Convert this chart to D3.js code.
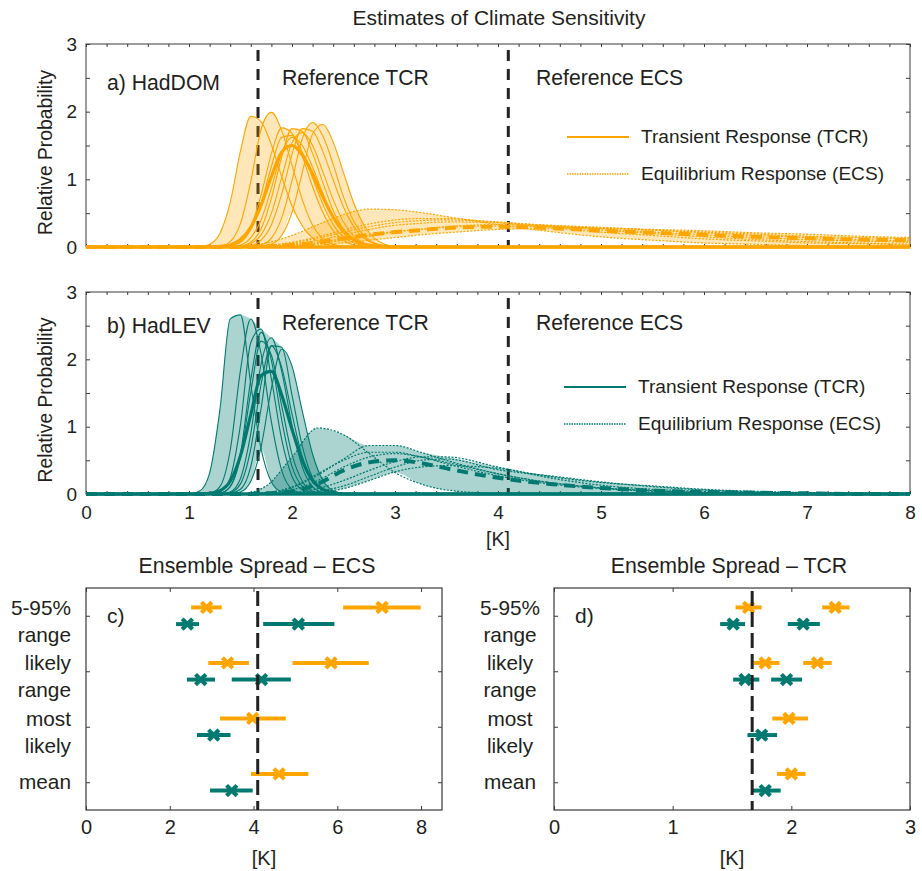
<!DOCTYPE html>
<html><head><meta charset="utf-8">
<script src="https://cdn.jsdelivr.net/npm/d3@7"></script>
<style>
body{margin:0;background:#fff}
text{font-family:"Liberation Sans",Arial,Helvetica,sans-serif;fill:#231f20}
</style>
</head><body>
<svg id="chart" width="922" height="871"></svg>
<script>
// ---------------- DATA ----------------
const refTCR = 1.67;
const refECS = 4.1;

// x grid (K) for transient-response densities
const tcrGrid = [0,1.0,1.1,1.2,1.3,1.4,1.5,1.6,1.7,1.8,1.9,2.0,2.1,2.2,2.3,2.4,2.5,2.6,2.7,2.8,2.9,3.0,8];
// x grid (K) for equilibrium-response densities
const ecsGrid = [0,1.0,1.25,1.5,1.75,2.0,2.25,2.5,2.75,3.0,3.25,3.5,4.0,4.5,5.0,5.5,6.0,6.5,7.0,7.5,8.0];

// a) HadDOM – TCR ensemble members
const tcrHadDOM = [
  [0,0,0,0.04,0.20,0.66,1.42,1.93,1.85,1.51,1.04,0.61,0.31,0.13,0.05,0.02,0,0,0,0,0,0,0],
  [0,0,0,0,0.01,0.08,0.35,0.97,1.74,1.99,1.72,1.21,0.70,0.32,0.12,0.04,0.01,0,0,0,0,0,0],
  [0,0,0,0,0,0.02,0.08,0.30,0.77,1.38,1.76,1.68,1.34,0.89,0.51,0.24,0.10,0.03,0.01,0,0,0,0],
  [0,0,0,0,0,0,0.01,0.07,0.27,0.72,1.33,1.75,1.71,1.38,0.95,0.54,0.26,0.11,0.04,0.01,0,0,0],
  [0,0,0,0,0,0,0,0.02,0.10,0.33,0.78,1.37,1.75,1.71,1.41,0.99,0.59,0.30,0.13,0.05,0.02,0,0],
  [0,0,0,0,0,0,0,0,0.03,0.13,0.43,0.98,1.60,1.84,1.64,1.22,0.74,0.38,0.16,0.06,0.02,0,0],
  [0,0,0,0,0,0,0,0,0.01,0.04,0.17,0.51,1.10,1.67,1.81,1.55,1.10,0.65,0.32,0.13,0.04,0.01,0],
  [0,0,0,0,0,0.01,0.03,0.14,0.40,0.87,1.39,1.62,1.50,1.18,0.79,0.45,0.22,0.09,0.03,0.01,0,0,0],
  [0,0,0,0,0,0,0.01,0.05,0.18,0.50,1.03,1.54,1.69,1.50,1.11,0.70,0.37,0.16,0.06,0.02,0,0,0],
  [0,0,0,0,0,0.02,0.07,0.26,0.64,1.19,1.62,1.65,1.40,1.02,0.63,0.33,0.15,0.06,0.02,0,0,0,0]
];
const tcrHadDOMMean = [0,0,0,0,0.01,0.03,0.11,0.29,0.62,1.04,1.40,1.50,1.36,1.08,0.74,0.44,0.23,0.11,0.04,0.02,0,0,0];

// a) HadDOM – ECS ensemble members
const ecsHadDOM = [
  [0,0,0,0.01,0.06,0.17,0.33,0.48,0.56,0.55,0.51,0.45,0.33,0.23,0.15,0.10,0.06,0.04,0.02,0.01,0.01],
  [0,0,0,0,0.01,0.03,0.07,0.12,0.18,0.23,0.26,0.29,0.31,0.30,0.28,0.25,0.22,0.19,0.16,0.14,0.12],
  [0,0,0,0,0.02,0.06,0.13,0.22,0.30,0.36,0.39,0.40,0.37,0.31,0.25,0.20,0.15,0.11,0.08,0.06,0.04],
  [0,0,0,0,0.01,0.02,0.05,0.10,0.16,0.22,0.26,0.30,0.33,0.32,0.29,0.25,0.21,0.17,0.14,0.11,0.09],
  [0,0,0,0,0.02,0.07,0.15,0.25,0.34,0.40,0.42,0.42,0.36,0.29,0.22,0.17,0.12,0.09,0.06,0.05,0.03],
  [0,0,0,0,0,0.01,0.03,0.06,0.10,0.14,0.18,0.21,0.26,0.28,0.28,0.26,0.24,0.21,0.19,0.16,0.14],
  [0,0,0,0,0.01,0.04,0.10,0.18,0.26,0.32,0.35,0.37,0.36,0.32,0.27,0.22,0.18,0.14,0.11,0.09,0.07]
];
const ecsHadDOMMean = [0,0,0,0,0.01,0.03,0.07,0.13,0.18,0.22,0.25,0.28,0.30,0.28,0.24,0.21,0.18,0.15,0.13,0.11,0.10];

// b) HadLEV – TCR ensemble members
const tcrHadLEV = [
  [0,0,0.04,0.31,1.25,2.60,2.66,1.63,0.67,0.18,0.03,0,0,0,0,0,0,0,0,0,0,0,0],
  [0,0,0,0.01,0.11,0.65,1.84,2.60,2.08,1.07,0.35,0.07,0.01,0,0,0,0,0,0,0,0,0,0],
  [0,0,0,0,0.03,0.24,1.03,2.25,2.45,1.71,0.81,0.26,0.06,0.01,0,0,0,0,0,0,0,0,0],
  [0,0,0,0,0.01,0.11,0.55,1.51,2.27,2.06,1.31,0.59,0.19,0.04,0.01,0,0,0,0,0,0,0,0],
  [0,0,0,0,0,0.03,0.23,0.90,1.93,2.32,1.82,1.02,0.40,0.11,0.02,0,0,0,0,0,0,0,0],
  [0,0,0,0,0,0.01,0.07,0.41,1.27,2.20,2.18,1.47,0.71,0.24,0.06,0.01,0,0,0,0,0,0,0],
  [0,0,0,0,0,0,0.03,0.19,0.70,1.57,2.15,1.90,1.23,0.59,0.20,0.05,0.01,0,0,0,0,0,0],
  [0,0,0,0,0.01,0.11,0.60,1.70,2.40,1.98,1.10,0.41,0.11,0.02,0,0,0,0,0,0,0,0,0],
  [0,0,0,0,0,0.02,0.15,0.67,1.63,2.20,1.88,1.19,0.55,0.19,0.05,0.01,0,0,0,0,0,0,0]
];
const tcrHadLEVMean = [0,0,0,0.01,0.05,0.19,0.57,1.18,1.76,1.82,1.47,0.96,0.50,0.20,0.07,0.02,0,0,0,0,0,0,0];

// b) HadLEV – ECS ensemble members
const ecsHadLEV = [
  [0,0,0,0,0.12,0.55,0.98,0.88,0.60,0.32,0.15,0.06,0.01,0,0,0,0,0,0,0,0],
  [0,0,0,0,0.02,0.10,0.28,0.52,0.72,0.72,0.62,0.50,0.30,0.17,0.09,0.05,0.02,0.01,0,0,0],
  [0,0,0,0,0,0.02,0.08,0.20,0.35,0.48,0.55,0.55,0.40,0.24,0.13,0.07,0.04,0.02,0.01,0,0],
  [0,0,0,0,0.01,0.06,0.20,0.40,0.55,0.60,0.55,0.47,0.30,0.17,0.09,0.05,0.02,0.01,0,0,0],
  [0,0,0,0,0,0.01,0.04,0.12,0.26,0.40,0.50,0.52,0.36,0.27,0.18,0.11,0.06,0.03,0.01,0,0],
  [0,0,0,0,0.02,0.10,0.30,0.50,0.62,0.62,0.55,0.45,0.27,0.15,0.08,0.04,0.02,0.01,0,0,0],
  [0,0,0,0,0,0,0.02,0.08,0.20,0.33,0.40,0.42,0.38,0.26,0.17,0.12,0.07,0.04,0.02,0.01,0]
];
const ecsHadLEVMean = [0,0,0,0,0.01,0.04,0.15,0.35,0.47,0.50,0.46,0.38,0.24,0.15,0.09,0.05,0.03,0.02,0.01,0,0];

// c/d) Ensemble spread: [group, low, estimate, high]
const groupLabels = [["5-95%","range"],["likely","range"],["most","likely"],["mean"]];
const ecsSpreadDOM = [[1,2.51,2.88,3.24],[1,6.14,7.07,7.99],[2,2.92,3.38,3.89],[2,4.93,5.85,6.75],[3,3.20,3.98,4.77],[4,3.94,4.61,5.31]];
const ecsSpreadLEV = [[1,2.15,2.42,2.70],[1,4.23,5.07,5.93],[2,2.41,2.74,3.08],[2,3.48,4.19,4.89],[3,2.65,3.05,3.45],[4,2.96,3.48,3.98]];
const tcrSpreadDOM = [[1,1.53,1.64,1.75],[1,2.26,2.37,2.49],[2,1.68,1.78,1.90],[2,2.10,2.22,2.34],[3,1.84,1.98,2.14],[4,1.88,2.00,2.12]];
const tcrSpreadLEV = [[1,1.40,1.51,1.61],[1,1.97,2.10,2.24],[2,1.51,1.61,1.73],[2,1.83,1.96,2.09],[3,1.63,1.75,1.88],[4,1.67,1.78,1.91]];

const topTicksY = [0,1,2,3];
const topTicksX = [0,1,2,3,4,5,6,7,8];
const ecsTicksX = [0,2,4,6,8];
const tcrTicksX = [0,1,2,3];

// ---------------- DRAWING ----------------
const orange = "#ffa500", teal = "#007a70", dark = "#231f20", frame = "#3a3a3a";
const svg = d3.select("#chart");

svg.append("text").attr("x", 499).attr("y", 25).attr("text-anchor","middle")
  .style("font-size","21px").text("Estimates of Climate Sensitivity");

const xTop = d3.scaleLinear().domain([0,8]).range([86,910]);

const panels = [
  {key:"a", top:44, bottom:247, color:orange, op:0.27, tcr:tcrHadDOM, tcrMean:tcrHadDOMMean, ecs:ecsHadDOM, ecsMean:ecsHadDOMMean,
   label:"a) HadDOM", labelY:90, refY:85, legY:[137,174], legX:[567,629,641], showX:false},
  {key:"b", top:292, bottom:494, color:teal, op:0.33, tcr:tcrHadLEV, tcrMean:tcrHadLEVMean, ecs:ecsHadLEV, ecsMean:ecsHadLEVMean,
   label:"b) HadLEV", labelY:333, refY:330, legY:[387,424], legX:[564,626,638], showX:true}
];

panels.forEach(p => {
  const y = d3.scaleLinear().domain([0,3]).range([p.bottom, p.top]);
  const g = svg.append("g");
  g.append("rect").attr("x",86).attr("y",p.top).attr("width",824).attr("height",p.bottom-p.top)
    .attr("fill","none").attr("stroke",frame).attr("stroke-width",1);
  const minorX = d3.range(0, 40.5, 1).map(i => i*0.2);
  const yT = d3.range(0, 6.5, 1).map(i => i*0.5);
  g.append("g").attr("transform",`translate(0,${p.bottom})`)
    .call(d3.axisBottom(xTop).tickValues(minorX).tickSize(-3).tickFormat(""))
    .call(a => a.select(".domain").remove()).selectAll("line").attr("stroke",frame);
  g.append("g").attr("transform",`translate(0,${p.top})`)
    .call(d3.axisTop(xTop).tickValues(minorX).tickSize(-3).tickFormat(""))
    .call(a => a.select(".domain").remove()).selectAll("line").attr("stroke",frame);
  g.append("g").attr("transform",`translate(86,0)`)
    .call(d3.axisLeft(y).tickValues(yT).tickSize(-4).tickPadding(9).tickFormat(d => topTicksY.includes(d) ? d3.format("d")(d) : ""))
    .call(a => a.select(".domain").remove())
    .call(a => a.selectAll("line").attr("stroke",frame))
    .call(a => a.selectAll("text").style("font-size","19px").attr("fill",dark).style("font-family",null));
  g.append("g").attr("transform",`translate(910,0)`)
    .call(d3.axisRight(y).tickValues(yT).tickSize(-4).tickFormat(""))
    .call(a => a.select(".domain").remove()).selectAll("line").attr("stroke",frame);
  if (p.showX) {
    g.append("g").attr("transform",`translate(0,${p.bottom})`)
      .call(d3.axisBottom(xTop).tickValues(topTicksX).tickSize(0).tickPadding(12))
      .call(a => a.select(".domain").remove())
      .call(a => a.selectAll("text").style("font-size","19px").attr("fill",dark).style("font-family",null));
    svg.append("text").attr("x",498).attr("y",546).attr("text-anchor","middle").style("font-size","19.5px").text("[K]");
  }
  svg.append("text").attr("transform",`translate(52,${(p.top+p.bottom)/2+7}) rotate(-90)`)
    .attr("text-anchor","middle").style("font-size","19.3px").text("Relative Probability");

  [refTCR, refECS].forEach(r => {
    g.append("line").attr("x1",xTop(r)).attr("x2",xTop(r)).attr("y1",p.top+6).attr("y2",p.bottom)
      .attr("stroke","#222").attr("stroke-width",3).attr("stroke-dasharray","11,8");
  });

  svg.append("clipPath").attr("id","clip"+p.key).append("rect")
    .attr("x",86).attr("y",p.top).attr("width",824).attr("height",p.bottom-p.top+4);
  const cg = g.append("g").attr("clip-path",`url(#clip${p.key})`);

  function drawSet(grid, curves, mean, dotted) {
    const all = curves.concat([mean]);
    const env = grid.map((xv,i) => ({x:xv, lo:d3.min(all, c => c[i]), hi:d3.max(all, c => c[i])}));
    cg.append("path").datum(env)
      .attr("d", d3.area().x(d => xTop(d.x)).y0(d => y(d.lo)).y1(d => y(d.hi)).curve(d3.curveMonotoneX))
      .attr("fill", p.color).attr("fill-opacity", p.op).attr("stroke","none");
    const line = d3.line().x((v,i) => xTop(grid[i])).y(v => y(v)).curve(d3.curveMonotoneX);
    curves.forEach(c => {
      cg.append("path").datum(c).attr("d", line).attr("fill","none").attr("stroke", p.color)
        .attr("stroke-width", dotted ? 1.2 : 1.1).attr("stroke-dasharray", dotted ? "2,1.5" : null);
    });
    cg.append("path").datum(mean).attr("d", line).attr("fill","none").attr("stroke", p.color)
      .attr("stroke-width", dotted ? 4 : 3.2).attr("stroke-dasharray", dotted ? "11,7" : null);
  }
  drawSet(ecsGrid, p.ecs, p.ecsMean, true);
  drawSet(tcrGrid, p.tcr, p.tcrMean, false);
  cg.append("line").attr("x1",xTop(0)).attr("x2",xTop(8)).attr("y1",y(0)).attr("y2",y(0))
    .attr("stroke",p.color).attr("stroke-width",3.5);

  svg.append("text").attr("x",107).attr("y",p.labelY).style("font-size","21.2px").text(p.label);
  svg.append("text").attr("x",282).attr("y",p.refY).style("font-size","21.2px").text("Reference TCR");
  svg.append("text").attr("x",536).attr("y",p.refY).style("font-size","21.2px").text("Reference ECS");
  svg.append("line").attr("x1",p.legX[0]).attr("x2",p.legX[1]).attr("y1",p.legY[0]).attr("y2",p.legY[0])
    .attr("stroke",p.color).attr("stroke-width",2);
  svg.append("line").attr("x1",p.legX[0]).attr("x2",p.legX[1]).attr("y1",p.legY[1]).attr("y2",p.legY[1])
    .attr("stroke",p.color).attr("stroke-width",1.6).attr("stroke-dasharray","1.5,1");
  svg.append("text").attr("x",p.legX[2]).attr("y",p.legY[0]+6).style("font-size","19.1px").text("Transient Response (TCR)");
  svg.append("text").attr("x",p.legX[2]).attr("y",p.legY[1]+6).style("font-size","19.1px").text("Equilibrium Response (ECS)");
});

// ---------- bottom panels ----------
const spreadPanels = [
  {left:86, right:442, domain:[0,8.5], ticks:ecsTicksX, ref:refECS, dom:ecsSpreadDOM, lev:ecsSpreadLEV,
   title:"Ensemble Spread \u2013 ECS", titleX:257, tag:"c)", labAnchor:"end", labX:71},
  {left:554, right:910, domain:[0,3], ticks:tcrTicksX, ref:refTCR, dom:tcrSpreadDOM, lev:tcrSpreadLEV,
   title:"Ensemble Spread \u2013 TCR", titleX:729, tag:"d)", labAnchor:"middle", labX:510}
];
const top2 = 588, bot2 = 810;
const yS = d3.scaleLinear().domain([0.5,4.5]).range([top2, bot2]);

spreadPanels.forEach(sp => {
  const x = d3.scaleLinear().domain(sp.domain).range([sp.left, sp.right]);
  const g = svg.append("g");
  g.append("rect").attr("x",sp.left).attr("y",top2).attr("width",sp.right-sp.left).attr("height",bot2-top2)
    .attr("fill","none").attr("stroke",frame).attr("stroke-width",1.2);
  g.append("g").attr("transform",`translate(0,${bot2})`)
    .call(d3.axisBottom(x).tickValues(sp.ticks).tickSize(-4).tickPadding(10).tickFormat(d3.format("d")))
    .call(a => a.select(".domain").remove())
    .call(a => a.selectAll("line").attr("stroke",frame))
    .call(a => a.selectAll("text").style("font-size","20px").attr("fill",dark).style("font-family",null));
  g.append("g").attr("transform",`translate(0,${top2})`)
    .call(d3.axisTop(x).tickValues(sp.ticks).tickSize(-4).tickFormat(""))
    .call(a => a.select(".domain").remove()).selectAll("line").attr("stroke",frame);
  g.append("g").attr("transform",`translate(${sp.left},0)`)
    .call(d3.axisLeft(yS).tickValues([1,2,3,4]).tickSize(-4).tickFormat(""))
    .call(a => a.select(".domain").remove()).selectAll("line").attr("stroke",frame);
  g.append("g").attr("transform",`translate(${sp.right},0)`)
    .call(d3.axisRight(yS).tickValues([1,2,3,4]).tickSize(-4).tickFormat(""))
    .call(a => a.select(".domain").remove()).selectAll("line").attr("stroke",frame);

  svg.append("text").attr("x",sp.titleX).attr("y",573).attr("text-anchor","middle").style("font-size","21.3px").text(sp.title);
  svg.append("text").attr("x",(sp.left+sp.right)/2).attr("y",865).attr("text-anchor","middle").style("font-size","20px").text("[K]");
  svg.append("text").attr("x",sp.left+21).attr("y",623).style("font-size","21px").text(sp.tag);

  groupLabels.forEach((lines, i) => {
    const yy = yS(i+1);
    if (lines.length === 2) {
      svg.append("text").attr("x",sp.labX).attr("y",yy-1).attr("text-anchor",sp.labAnchor).style("font-size","20.8px").text(lines[0]);
      svg.append("text").attr("x",sp.labX).attr("y",yy+26).attr("text-anchor",sp.labAnchor).style("font-size","20.8px").text(lines[1]);
    } else {
      svg.append("text").attr("x",sp.labX).attr("y",yy+7).attr("text-anchor",sp.labAnchor).style("font-size","20.8px").text(lines[0]);
    }
  });

  const sym = d3.symbol().type(d3.symbolTimes).size(72);
  function bars(data, color, off) {
    data.forEach(d => {
      const yy = yS(d[0] + off);
      g.append("line").attr("x1",x(d[1])).attr("x2",x(d[3])).attr("y1",yy).attr("y2",yy)
        .attr("stroke",color).attr("stroke-width",4);
      g.append("path").attr("d",sym).attr("transform",`translate(${x(d[2])},${yy})`)
        .attr("fill","none").attr("stroke",color).attr("stroke-width",4.2);
    });
  }
  bars(sp.dom, orange, -0.15);
  bars(sp.lev, teal, 0.15);

  g.append("line").attr("x1",x(sp.ref)).attr("x2",x(sp.ref)).attr("y1",top2+3).attr("y2",bot2)
    .attr("stroke","#222").attr("stroke-width",3).attr("stroke-dasharray","15,6");
});
</script>
</body></html>
